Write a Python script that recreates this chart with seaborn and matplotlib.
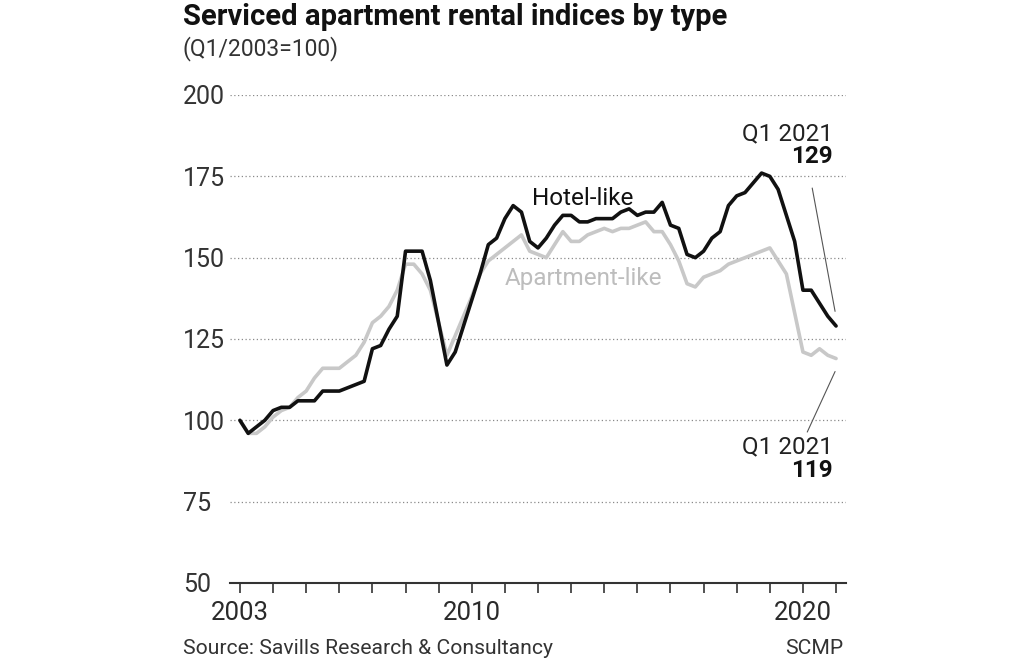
import matplotlib.pyplot as plt
import pandas as pd
import seaborn as sns

# Quarterly index, Q1 2003 .. Q1 2021 (Q1/2003 = 100)
years = [y for y in range(2003, 2021) for q in range(4)] + [2021]
quarters = [q for y in range(2003, 2021) for q in range(1, 5)] + [1]

hotel_like = [100, 96, 98, 100,
              103, 104, 104, 106,
              106, 106, 109, 109,
              109, 110, 111, 112,
              122, 123, 128, 132,
              152, 152, 152, 143,
              130, 117, 121, 129,
              137, 145, 154, 156,
              162, 166, 164, 155,
              153, 156, 160, 163,
              163, 161, 161, 162,
              162, 162, 164, 165,
              163, 164, 164, 167,
              160, 159, 151, 150,
              152, 156, 158, 166,
              169, 170, 173, 176,
              175, 171, 163, 155,
              140, 140, 136, 132,
              129]

apartment_like = [100, 96, 96, 98,
                  101, 103, 104, 107,
                  109, 113, 116, 116,
                  116, 118, 120, 124,
                  130, 132, 135, 140,
                  148, 148, 145, 140,
                  130, 120, 126, 132,
                  138, 145, 149, 151,
                  153, 155, 157, 152,
                  151, 150, 154, 158,
                  155, 155, 157, 158,
                  159, 158, 159, 159,
                  160, 161, 158, 158,
                  154, 149, 142, 141,
                  144, 145, 146, 148,
                  149, 150, 151, 152,
                  153, 149, 145, 133,
                  121, 120, 122, 120,
                  119]

y_ticks = [50, 75, 100, 125, 150, 175, 200]
x_ticks = list(range(2003, 2022))
x_labels = {2003: "2003", 2010: "2010", 2020: "2020"}

df = pd.DataFrame({"year": years, "quarter": quarters,
                   "Hotel-like": hotel_like, "Apartment-like": apartment_like})
df["t"] = df["year"] + (df["quarter"] - 1) / 4

sns.set_theme(style="white")
plt.rcParams["font.family"] = ["Roboto", "DejaVu Sans"]

fig = plt.figure(figsize=(10.24, 6.58), dpi=100)
ax = fig.add_axes([230 / 1024, 75 / 658, 616 / 1024, 488 / 658])

sns.lineplot(data=df, x="t", y="Apartment-like", color="#c8c8c8", lw=2.6, ax=ax, clip_on=False)
sns.lineplot(data=df, x="t", y="Hotel-like", color="#111111", lw=2.6, ax=ax, clip_on=False)

ax.set_xlim(2002.7, 2021.3)
ax.set_ylim(50, 200)
ax.set_xlabel("")
ax.set_ylabel("")

for s in ["top", "right", "left"]:
    ax.spines[s].set_visible(False)
ax.spines["bottom"].set_color("#333333")
ax.spines["bottom"].set_linewidth(1.5)

ax.set_yticks(y_ticks)
ax.set_yticklabels([str(v) for v in y_ticks])
ax.tick_params(axis="y", length=0, pad=33.8, labelsize=18, labelcolor="#333333")
for lab in ax.get_yticklabels():
    lab.set_horizontalalignment("left")
for v in y_ticks[1:]:
    ax.axhline(v, color="#8a8a8a", lw=0.9, ls=(0, (1, 2)), zorder=0)

ax.set_xticks(x_ticks)
ax.set_xticklabels([x_labels.get(x, "") for x in x_ticks])
ax.tick_params(axis="x", direction="out", length=7, width=1.2, color="#333333",
               bottom=True, pad=6, labelsize=18.5, labelcolor="#2a2a2a")

# series labels
ax.text(2011.82, 168.3, "Hotel-like", fontsize=17.5, color="#111111", ha="left", va="center")
ax.text(2010.98, 143.5, "Apartment-like", fontsize=17.5, color="#bdbdbd", ha="left", va="center")

# end-point call-outs
ax.text(2020.9, 188.0, "Q1 2021", fontsize=17.5, ha="right", va="center", color="#222222")
ax.text(2020.9, 181.0, str(hotel_like[-1]), fontsize=17.5, ha="right", va="center",
        color="#111111", fontweight="bold")
ax.plot([2020.28, 2020.97], [171.4, 133.5], color="#555555", lw=0.8, clip_on=False)

ax.text(2020.9, 91.8, "Q1 2021", fontsize=17.5, ha="right", va="center", color="#222222")
ax.text(2020.9, 84.7, str(apartment_like[-1]), fontsize=17.5, ha="right", va="center",
        color="#111111", fontweight="bold")
ax.plot([2020.13, 2020.97], [96.4, 115], color="#555555", lw=0.8, clip_on=False)

fig.text(183 / 1024, 1 - 3 / 658, "Serviced apartment rental indices by type", fontsize=21,
         fontweight="bold", color="#111111", ha="left", va="top")
fig.text(183 / 1024, 1 - 36 / 658, "(Q1/2003=100)", fontsize=16.5, color="#333333",
         ha="left", va="top")
fig.text(183 / 1024, 10 / 658, "Source: Savills Research & Consultancy", fontsize=15.2,
         color="#333333", ha="left", va="center")
fig.text(843 / 1024, 10 / 658, "SCMP", fontsize=15.2, color="#333333", ha="right",
         va="center")

fig.savefig("out.png", dpi=100, facecolor="white")
